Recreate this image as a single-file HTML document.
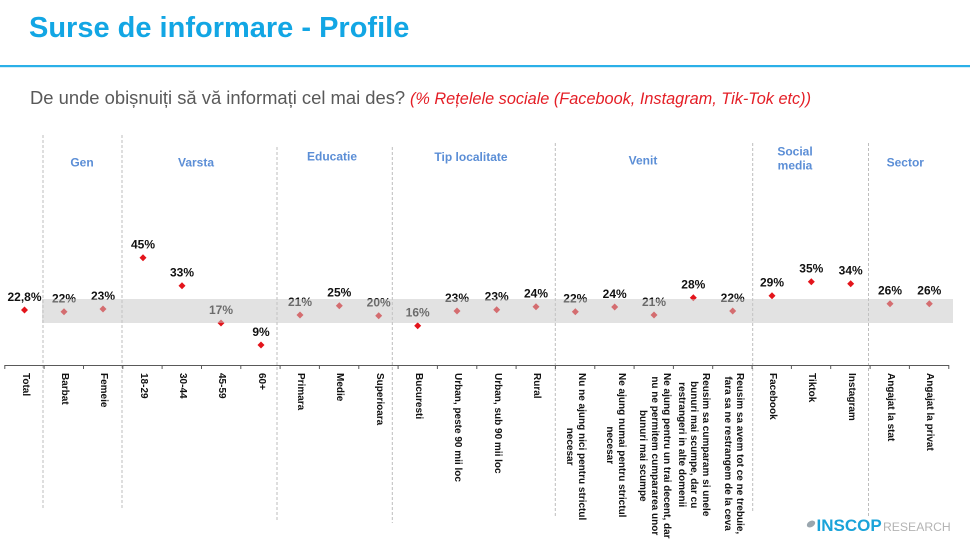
<!DOCTYPE html>
<html>
<head>
<meta charset="utf-8">
<style>
  html,body{margin:0;padding:0;background:#fff;}
  body{width:970px;height:536px;overflow:hidden;position:relative;font-family:"Liberation Sans",Arial,sans-serif;}
  svg{position:absolute;left:0;top:0;}
  .xl{position:absolute;top:373px;transform-origin:0 0;transform:rotate(90deg);white-space:nowrap;text-align:center;font-weight:bold;font-size:10px;line-height:12px;color:#111;}
</style>
</head>
<body>
<svg width="970" height="536" viewBox="0 0 970 536" xmlns="http://www.w3.org/2000/svg" font-family="Liberation Sans, Arial, sans-serif">
  <!-- Title -->
  <text x="29" y="37" font-size="29" font-weight="bold" fill="#12a6e4">Surse de informare - Profile</text>
  <rect x="0" y="65" width="970" height="2.2" fill="#2bb0e8"/>
  <text x="30" y="104" font-size="18.4" fill="#595959">De unde obișnuiți să vă informați cel mai des?</text>
  <text x="410" y="104" font-size="16.3" font-style="italic" fill="#e41e26">(% Rețelele sociale (Facebook, Instagram, Tik-Tok etc))</text>

  <!-- separators -->
  <g stroke="#bdbdbd" stroke-width="1" stroke-dasharray="3 2">
    <line x1="43" y1="135" x2="43" y2="508"/>
    <line x1="122" y1="135" x2="122" y2="508"/>
    <line x1="277" y1="147" x2="277" y2="522"/>
    <line x1="392.3" y1="147" x2="392.3" y2="523"/>
    <line x1="555.3" y1="143" x2="555.3" y2="518"/>
    <line x1="752.7" y1="143" x2="752.7" y2="513"/>
    <line x1="868.5" y1="143" x2="868.5" y2="517"/>
  </g>

  <!-- group headers -->
  <g font-size="12" font-weight="bold" fill="#5b8ed6" text-anchor="middle">
    <text x="82" y="166.5">Gen</text>
    <text x="196" y="166.5">Varsta</text>
    <text x="332" y="160.5">Educatie</text>
    <text x="471" y="161">Tip localitate</text>
    <text x="643" y="164.3">Venit</text>
    <text x="795" y="155.5">Social</text>
    <text x="795" y="169.5">media</text>
    <text x="905.3" y="166.3">Sector</text>
  </g>

  <!-- axis -->
  <line x1="4.8" y1="365.5" x2="948.8" y2="365.5" stroke="#595959" stroke-width="1"/>
  <g stroke="#595959" stroke-width="1">
    <line x1="4.8" y1="365" x2="4.8" y2="369"/>
    <line x1="44.1" y1="365" x2="44.1" y2="369"/>
    <line x1="83.5" y1="365" x2="83.5" y2="369"/>
    <line x1="122.8" y1="365" x2="122.8" y2="369"/>
    <line x1="162.1" y1="365" x2="162.1" y2="369"/>
    <line x1="201.5" y1="365" x2="201.5" y2="369"/>
    <line x1="240.8" y1="365" x2="240.8" y2="369"/>
    <line x1="280.1" y1="365" x2="280.1" y2="369"/>
    <line x1="319.4" y1="365" x2="319.4" y2="369"/>
    <line x1="358.8" y1="365" x2="358.8" y2="369"/>
    <line x1="398.1" y1="365" x2="398.1" y2="369"/>
    <line x1="437.4" y1="365" x2="437.4" y2="369"/>
    <line x1="476.8" y1="365" x2="476.8" y2="369"/>
    <line x1="516.1" y1="365" x2="516.1" y2="369"/>
    <line x1="555.4" y1="365" x2="555.4" y2="369"/>
    <line x1="594.8" y1="365" x2="594.8" y2="369"/>
    <line x1="634.1" y1="365" x2="634.1" y2="369"/>
    <line x1="673.4" y1="365" x2="673.4" y2="369"/>
    <line x1="712.7" y1="365" x2="712.7" y2="369"/>
    <line x1="752.1" y1="365" x2="752.1" y2="369"/>
    <line x1="791.4" y1="365" x2="791.4" y2="369"/>
    <line x1="830.7" y1="365" x2="830.7" y2="369"/>
    <line x1="870.1" y1="365" x2="870.1" y2="369"/>
    <line x1="909.4" y1="365" x2="909.4" y2="369"/>
    <line x1="948.8" y1="365" x2="948.8" y2="369"/>
  </g>

  <!-- markers -->
  <g fill="#e3141b">
    <path d="M24.5 306.5 L28 310 L24.5 313.5 L21 310 Z"/>
    <path d="M64 308.2 L67.5 311.7 L64 315.2 L60.5 311.7 Z"/>
    <path d="M103 305.5 L106.5 309 L103 312.5 L99.5 309 Z"/>
    <path d="M143 254.2 L146.5 257.7 L143 261.2 L139.5 257.7 Z"/>
    <path d="M182 282.2 L185.5 285.7 L182 289.2 L178.5 285.7 Z"/>
    <path d="M221 319.5 L224.5 323 L221 326.5 L217.5 323 Z"/>
    <path d="M261 341.5 L264.5 345 L261 348.5 L257.5 345 Z"/>
    <path d="M300 311.5 L303.5 315 L300 318.5 L296.5 315 Z"/>
    <path d="M339.3 302.2 L342.8 305.7 L339.3 309.2 L335.8 305.7 Z"/>
    <path d="M378.7 312.2 L382.2 315.7 L378.7 319.2 L375.2 315.7 Z"/>
    <path d="M417.7 322.2 L421.2 325.7 L417.7 329.2 L414.2 325.7 Z"/>
    <path d="M457 307.5 L460.5 311 L457 314.5 L453.5 311 Z"/>
    <path d="M496.7 306.2 L500.2 309.7 L496.7 313.2 L493.2 309.7 Z"/>
    <path d="M536 303.2 L539.5 306.7 L536 310.2 L532.5 306.7 Z"/>
    <path d="M575.3 308.2 L578.8 311.7 L575.3 315.2 L571.8 311.7 Z"/>
    <path d="M614.7 303.5 L618.2 307 L614.7 310.5 L611.2 307 Z"/>
    <path d="M654 311.5 L657.5 315 L654 318.5 L650.5 315 Z"/>
    <path d="M693.3 294.2 L696.8 297.7 L693.3 301.2 L689.8 297.7 Z"/>
    <path d="M732.7 307.5 L736.2 311 L732.7 314.5 L729.2 311 Z"/>
    <path d="M772 292.2 L775.5 295.7 L772 299.2 L768.5 295.7 Z"/>
    <path d="M811.3 278.2 L814.8 281.7 L811.3 285.2 L807.8 281.7 Z"/>
    <path d="M850.7 280.2 L854.2 283.7 L850.7 287.2 L847.2 283.7 Z"/>
    <path d="M890 300.2 L893.5 303.7 L890 307.2 L886.5 303.7 Z"/>
    <path d="M929.3 300.2 L932.8 303.7 L929.3 307.2 L925.8 303.7 Z"/>
  </g>

  <!-- data labels -->
  <g font-size="12" font-weight="bold" fill="#111" text-anchor="middle">
    <text x="24.5" y="301">22,8%</text>
    <text x="64" y="302.7">22%</text>
    <text x="103" y="300">23%</text>
    <text x="143" y="248.7">45%</text>
    <text x="182" y="276.7">33%</text>
    <text x="221" y="314">17%</text>
    <text x="261" y="336">9%</text>
    <text x="300" y="306">21%</text>
    <text x="339.3" y="296.7">25%</text>
    <text x="378.7" y="306.7">20%</text>
    <text x="417.7" y="316.7">16%</text>
    <text x="457" y="302">23%</text>
    <text x="496.7" y="300.7">23%</text>
    <text x="536" y="297.7">24%</text>
    <text x="575.3" y="302.7">22%</text>
    <text x="614.7" y="298">24%</text>
    <text x="654" y="306">21%</text>
    <text x="693.3" y="288.7">28%</text>
    <text x="732.7" y="302">22%</text>
    <text x="772" y="286.7">29%</text>
    <text x="811.3" y="272.7">35%</text>
    <text x="850.7" y="274.7">34%</text>
    <text x="890" y="294.7">26%</text>
    <text x="929.3" y="294.7">26%</text>
  </g>

  <!-- gray band overlay -->
  <rect x="42" y="299" width="911" height="24" fill="#c6c6c6" opacity="0.5"/>

  <!-- logo -->
  <ellipse cx="811" cy="524" rx="4.5" ry="3" fill="#9aa6ae" transform="rotate(-30 811 524)"/>
  <text x="816.5" y="531" font-size="17" font-weight="bold" fill="#1aa3d9">INSCOP</text>
  <text x="883" y="531" font-size="12.2" fill="#b4b4b4">RESEARCH</text>
</svg>

<!-- rotated x-axis labels -->
<div class="xl" style="left:30.5px;">Total</div>
<div class="xl" style="left:70px;">Barbat</div>
<div class="xl" style="left:109px;">Femeie</div>
<div class="xl" style="left:149px;">18-29</div>
<div class="xl" style="left:188px;">30-44</div>
<div class="xl" style="left:227px;">45-59</div>
<div class="xl" style="left:267px;">60+</div>
<div class="xl" style="left:306px;">Primara</div>
<div class="xl" style="left:345.3px;">Medie</div>
<div class="xl" style="left:384.7px;">Superioara</div>
<div class="xl" style="left:423.7px;">Bucuresti</div>
<div class="xl" style="left:463px;">Urban, peste 90 mii loc</div>
<div class="xl" style="left:502.7px;">Urban, sub 90 mii loc</div>
<div class="xl" style="left:542px;">Rural</div>
<div class="xl" style="left:587.3px;">Nu ne ajung nici pentru strictul<br>necesar</div>
<div class="xl" style="left:626.7px;">Ne ajung numai pentru strictul<br>necesar</div>
<div class="xl" style="left:672px;">Ne ajung pentru un trai decent, dar<br>nu ne permitem cumpararea unor<br>bunuri mai scumpe</div>
<div class="xl" style="left:711.3px;">Reusim sa cumparam si unele<br>bunuri mai scumpe, dar cu<br>restrangeri in alte domenii</div>
<div class="xl" style="left:744.7px;">Reusim sa avem tot ce ne trebuie,<br>fara sa ne restrangem de la ceva</div>
<div class="xl" style="left:778px;">Facebook</div>
<div class="xl" style="left:817.3px;">Tiktok</div>
<div class="xl" style="left:856.7px;">Instagram</div>
<div class="xl" style="left:896px;">Angajat la stat</div>
<div class="xl" style="left:935.3px;">Angajat la privat</div>
</body>
</html>
